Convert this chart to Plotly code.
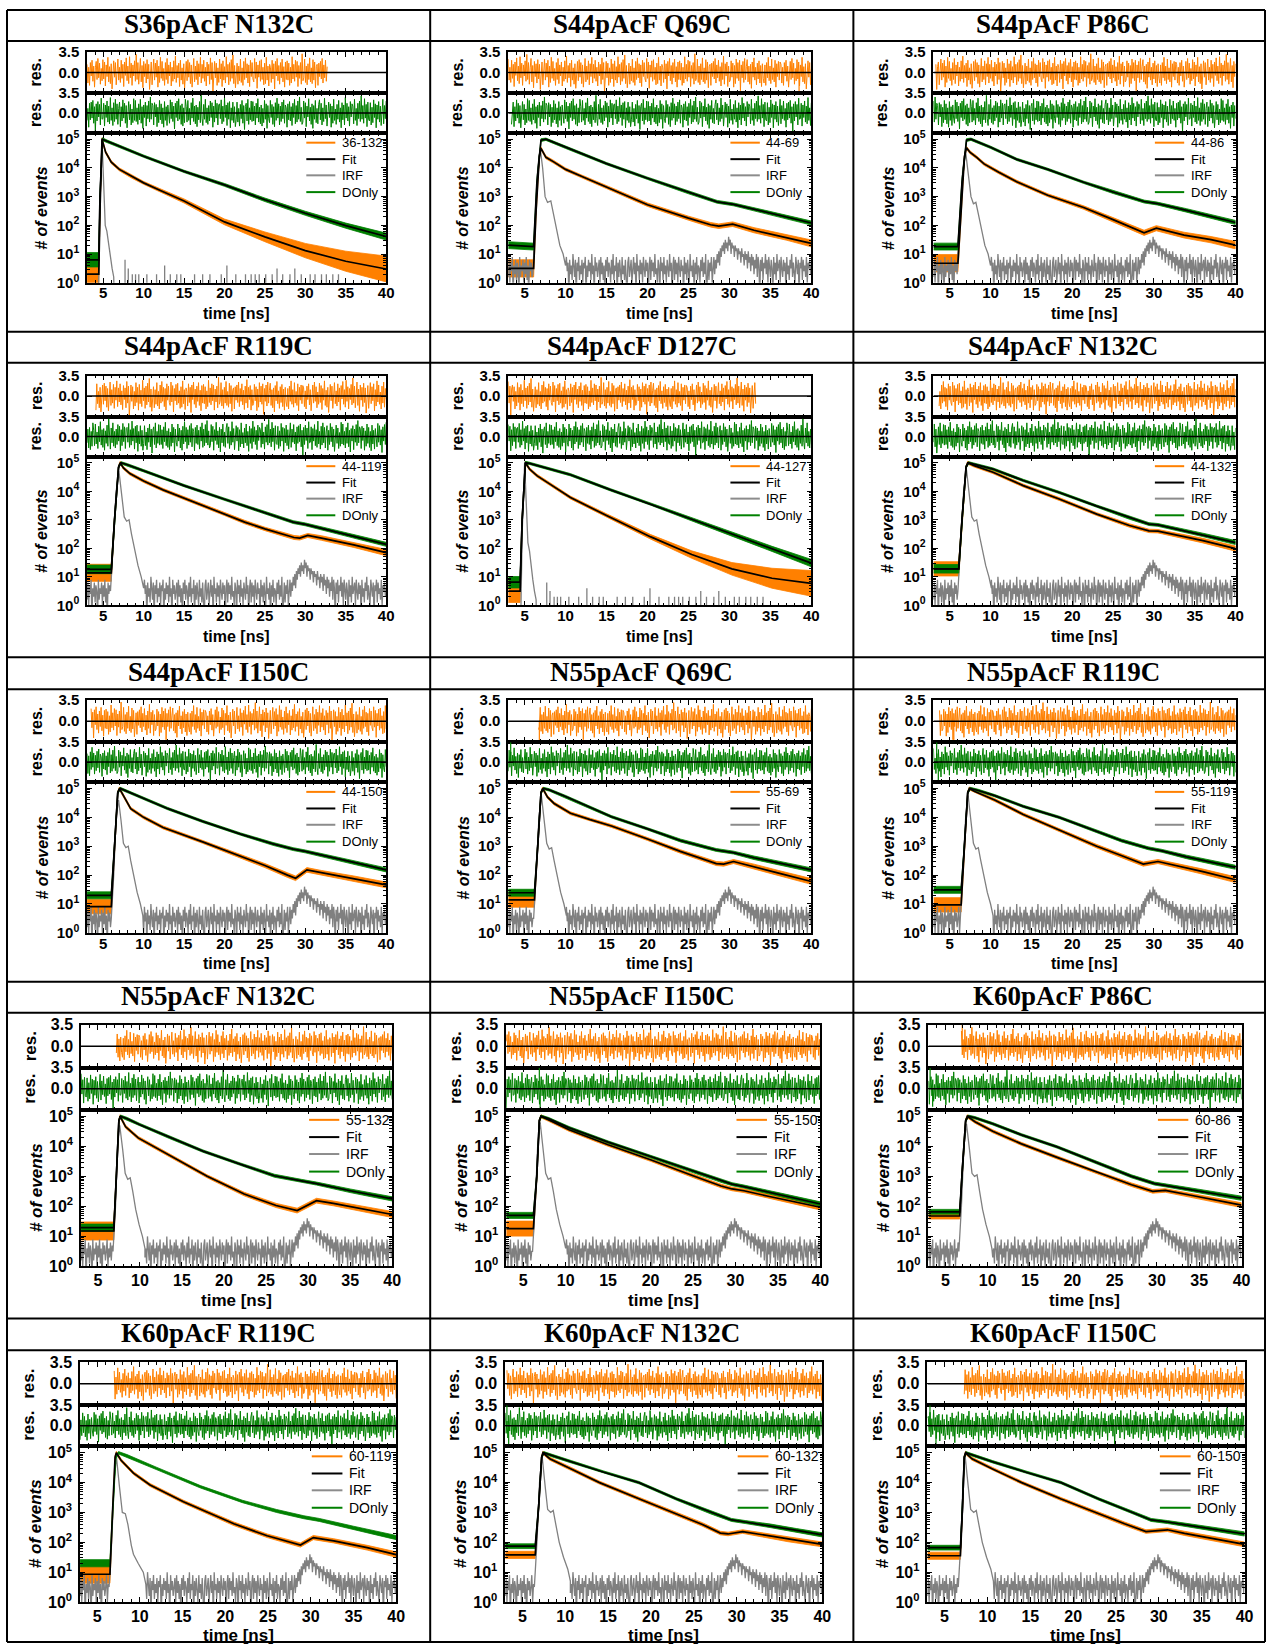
import numpy as np
import plotly.graph_objects as go

# ---------------------------------------------------------------- data
TITLES = ["S36pAcF N132C", "S44pAcF Q69C", "S44pAcF P86C",
          "S44pAcF R119C", "S44pAcF D127C", "S44pAcF N132C",
          "S44pAcF I150C", "N55pAcF Q69C", "N55pAcF R119C",
          "N55pAcF N132C", "N55pAcF I150C", "K60pAcF P86C",
          "K60pAcF R119C", "K60pAcF N132C", "K60pAcF I150C"]
PAIR_LABELS = ["36-132", "44-69", "44-86", "44-119", "44-127", "44-132",
               "44-150", "55-69", "55-119", "55-132", "55-150", "60-86",
               "60-119", "60-132", "60-150"]
LEGEND_NAMES = ["Fit", "IRF", "DOnly"]

# FRET decay: (time ns, log10 counts of fit, half-width of data scatter in decades)
FRET_NODES = [
    [(3, .3, .4), (4.45, .3, .4), (4.6, 2.5, .1), (4.85, 5.0, .05), (5.3, 4.55, .05), (6, 4.2, .05), (7, 3.95, .05),
     (8.5, 3.7, .05), (10, 3.48, .05), (12, 3.22, .06), (15, 2.85, .07), (20, 2.12, .1), (25, 1.6, .17),
     (30, 1.12, .25), (35, .75, .35), (40, .48, .45)],
    [(3, .5, .3), (6.1, .5, .3), (6.4, 2.5, .15), (6.8, 4.4, .05), (7.0, 4.68, .05), (7.6, 4.37, .05), (8.5, 4.22, .05),
     (10, 3.95, .05), (12, 3.7, .05), (15, 3.33, .05), (20, 2.72, .06), (25, 2.25, .07), (27.7, 2.02, .08),
     (28.7, 1.97, .08), (30.4, 2.04, .08), (33, 1.83, .09), (37, 1.58, .1), (40, 1.37, .12)],
    [(3, .68, .3), (6.0, .68, .3), (6.4, 2.5, .15), (6.8, 4.4, .05), (7.05, 4.7, .05), (7.5, 4.54, .05),
     (8.3, 4.37, .05), (9.2, 4.14, .05), (11, 3.85, .05), (13.2, 3.52, .05), (17, 3.05, .05), (21.4, 2.62, .06),
     (25, 2.2, .07), (28.8, 1.74, .09), (30.3, 1.9, .09), (33.7, 1.66, .1), (37, 1.5, .11), (40, 1.31, .13)],
    [(3, 1.14, .3), (6.0, 1.14, .3), (6.4, 3.0, .1), (6.9, 4.85, .05), (7.1, 5.0, .05), (7.5, 4.82, .05),
     (8.3, 4.62, .05), (10, 4.36, .05), (12.4, 4.05, .05), (15, 3.76, .05), (17.4, 3.49, .05), (20, 3.2, .05),
     (22.5, 2.92, .06), (25, 2.68, .06), (28.6, 2.38, .07), (29.3, 2.36, .07), (30.3, 2.45, .07),
     (32, 2.36, .08), (36, 2.12, .09), (40, 1.85, .11)],
    [(3, .5, .4), (4.45, .5, .4), (4.7, 3.0, .1), (5.1, 5.0, .05), (5.6, 4.78, .05), (6.5, 4.55, .05),
     (8, 4.27, .05), (10.6, 3.78, .05), (15, 3.15, .06), (20.4, 2.4, .08), (25.4, 1.78, .13), (30.3, 1.28, .22),
     (35.2, .95, .35), (40, .77, .45)],
    [(3, 1.28, .25), (6.1, 1.28, .25), (6.5, 3.0, .1), (7.0, 4.85, .05), (7.2, 5.0, .05), (8, 4.9, .05),
     (10.3, 4.67, .05), (14, 4.2, .05), (18.4, 3.73, .05), (23, 3.2, .05), (27, 2.8, .06), (29.4, 2.61, .06),
     (30.5, 2.6, .06), (33, 2.45, .07), (36, 2.27, .08), (40, 1.99, .09)],
    [(3, .91, .25), (6.0, .91, .25), (6.4, 3.0, .1), (6.8, 4.85, .05), (7.0, 5.0, .05), (7.6, 4.7, .05),
     (8.4, 4.3, .05), (10, 4.0, .05), (12.4, 3.65, .05), (17.3, 3.15, .05), (22.3, 2.62, .06), (25, 2.33, .07),
     (27.8, 2.0, .08), (28.8, 1.89, .08), (30.2, 2.18, .08), (32, 2.08, .08), (36, 1.88, .09), (40, 1.66, .1)],
    [(3, 1.14, .25), (6.2, 1.14, .25), (6.6, 3.0, .1), (7.0, 4.85, .05), (7.2, 5.0, .05), (7.8, 4.7, .05),
     (8.6, 4.48, .05), (10.6, 4.14, .05), (13, 3.92, .05), (15.6, 3.7, .05), (20, 3.25, .05), (24, 2.82, .06),
     (28.4, 2.4, .07), (29.3, 2.38, .07), (30.5, 2.47, .07), (33, 2.3, .08), (36, 2.07, .09), (40, 1.78, .1)],
    [(3, .97, .25), (6.4, .97, .25), (6.8, 3.0, .1), (7.2, 4.85, .05), (7.4, 5.0, .05), (8, 4.9, .05),
     (10.5, 4.6, .05), (14, 4.1, .05), (18.4, 3.56, .05), (23, 3.0, .06), (26, 2.68, .06), (28.7, 2.38, .07),
     (30.5, 2.47, .07), (33, 2.32, .08), (36, 2.12, .09), (40, 1.84, .1)],
    [(3, 1.18, .3), (6.9, 1.18, .3), (7.2, 3.0, .1), (7.5, 4.85, .05), (7.65, 5.0, .05), (8.3, 4.65, .05),
     (9.8, 4.28, .05), (13.7, 3.68, .05), (18, 3.0, .05), (22.4, 2.41, .06), (26.2, 2.03, .07), (28.7, 1.86, .08),
     (31, 2.19, .08), (33, 2.1, .08), (36, 1.95, .09), (40, 1.73, .1)],
    [(3, 1.26, .25), (6.2, 1.26, .25), (6.6, 3.0, .1), (6.9, 4.85, .05), (7.1, 5.0, .05), (8, 4.88, .05),
     (10.4, 4.55, .05), (15, 4.05, .05), (20, 3.55, .05), (25, 3.02, .06), (28.3, 2.68, .06), (29.6, 2.58, .06),
     (31, 2.52, .06), (34, 2.33, .07), (37, 2.15, .08), (40, 1.97, .09)],
    [(3, 1.68, .1), (6.7, 1.68, .1), (7.0, 3.2, .08), (7.4, 4.85, .05), (7.6, 5.0, .05), (8.5, 4.82, .05),
     (10.6, 4.5, .05), (14, 4.08, .05), (18.2, 3.63, .05), (23, 3.12, .05), (27, 2.72, .06), (29.5, 2.5, .06),
     (31, 2.53, .06), (34, 2.37, .07), (37, 2.2, .08), (40, 2.04, .08)],
    [(3, .93, .3), (6.5, .93, .3), (6.8, 3.0, .1), (7.1, 4.85, .05), (7.25, 5.0, .05), (7.8, 4.75, .05),
     (9.25, 4.32, .05), (11.2, 3.92, .05), (15.1, 3.36, .05), (18, 3.0, .05), (21, 2.62, .06), (24.9, 2.22, .06),
     (28.8, 1.91, .07), (30.3, 2.16, .07), (32.7, 2.05, .07), (36.6, 1.82, .08), (40, 1.59, .09)],
    [(3, 1.58, .12), (6.5, 1.58, .12), (6.9, 3.2, .08), (7.25, 4.85, .05), (7.4, 5.0, .05), (8.2, 4.8, .05),
     (10.7, 4.46, .05), (14, 4.0, .05), (18.6, 3.46, .05), (23, 2.95, .05), (26, 2.6, .06), (28.1, 2.31, .06),
     (29, 2.28, .06), (30.7, 2.36, .06), (33, 2.25, .07), (36, 2.1, .08), (40, 1.93, .08)],
    [(3, 1.55, .12), (6.85, 1.55, .12), (7.1, 3.2, .08), (7.3, 4.85, .05), (7.45, 5.0, .05), (8.2, 4.8, .05),
     (10.6, 4.46, .05), (14, 4.0, .05), (18.6, 3.45, .05), (23, 2.95, .05), (26, 2.62, .06), (28.5, 2.36, .06),
     (31, 2.42, .06), (33, 2.3, .07), (36, 2.14, .08), (40, 1.93, .08)],
]

# donor-only decay: (time ns, log10 counts of fit, half-width of data scatter in decades)
DONLY_NODES = [
    [(3, .8, .25), (4.45, .8, .25), (4.6, 3.0, .1), (4.9, 5.0, .05), (5.5, 4.93, .04), (10, 4.41, .04),
     (15, 3.88, .04), (20, 3.41, .05), (25, 2.89, .06), (30, 2.42, .07), (35, 1.99, .09), (40, 1.61, .12)],
    [(3, 1.31, .12), (6.1, 1.26, .12), (6.5, 3.5, .1), (7.0, 4.97, .05), (7.6, 5.0, .04), (10, 4.72, .04),
     (15, 4.15, .04), (20, 3.64, .04), (25, 3.15, .05), (28.5, 2.82, .05), (30.5, 2.73, .05), (33, 2.56, .06),
     (36, 2.36, .06), (40, 2.08, .07)],
    [(3, 1.26, .12), (6.0, 1.26, .12), (6.5, 3.5, .1), (7.05, 4.97, .05), (7.6, 5.0, .04), (10, 4.72, .04),
     (13.2, 4.3, .04), (17, 3.95, .04), (21.4, 3.5, .04), (25, 3.16, .05), (28.8, 2.83, .05), (30.4, 2.76, .05),
     (34, 2.52, .06), (40, 2.1, .07)],
    [(3, 1.26, .15), (6.0, 1.26, .15), (6.4, 3.0, .1), (6.9, 4.85, .05), (7.2, 5.0, .04), (8, 4.93, .04),
     (10, 4.72, .04), (15, 4.2, .04), (20, 3.72, .04), (25, 3.25, .05), (28.5, 2.92, .05), (30, 2.84, .05),
     (33, 2.62, .06), (36, 2.42, .06), (40, 2.14, .07)],
    [(3, .81, .2), (4.45, .81, .2), (4.7, 3.0, .1), (5.1, 5.0, .05), (5.6, 4.98, .04), (10.6, 4.58, .04),
     (15.5, 4.05, .04), (20.4, 3.55, .04), (25.4, 3.02, .05), (30.3, 2.5, .07), (35.2, 1.98, .09),
     (40, 1.48, .13)],
    [(3, 1.28, .15), (6.1, 1.28, .15), (6.5, 3.0, .1), (7.0, 4.85, .05), (7.3, 5.0, .04), (8, 4.95, .04),
     (10.3, 4.78, .04), (14, 4.38, .04), (18.4, 3.96, .04), (23, 3.48, .04), (27, 3.07, .05), (29.4, 2.85, .05),
     (30.5, 2.82, .05), (33, 2.66, .06), (36, 2.47, .06), (40, 2.2, .07)],
    [(3, 1.3, .12), (6.0, 1.3, .12), (6.4, 3.0, .1), (6.8, 4.85, .05), (7.1, 5.0, .04), (10, 4.65, .04),
     (13, 4.3, .04), (17.3, 3.86, .04), (22, 3.42, .04), (26, 3.08, .05), (28.5, 2.9, .05), (30, 2.82, .05),
     (33, 2.62, .06), (36, 2.44, .06), (40, 2.18, .07)],
    [(3, 1.39, .12), (6.2, 1.39, .12), (6.6, 3.0, .1), (7.0, 4.85, .05), (7.3, 5.0, .04), (8, 4.95, .04),
     (10, 4.72, .04), (15.6, 4.02, .04), (20, 3.6, .04), (24, 3.2, .05), (28.4, 2.87, .05), (30.5, 2.78, .05),
     (33, 2.6, .06), (36, 2.42, .06), (40, 2.18, .07)],
    [(3, 1.49, .12), (6.4, 1.49, .12), (6.8, 3.0, .1), (7.2, 4.85, .05), (7.5, 5.0, .04), (8.5, 4.93, .04),
     (10.5, 4.75, .04), (14, 4.38, .04), (18.4, 4.0, .04), (23, 3.52, .04), (26, 3.2, .05), (29.3, 2.93, .05),
     (31, 2.84, .05), (34, 2.63, .06), (40, 2.27, .07)],
    [(3, 1.29, .12), (6.9, 1.29, .12), (7.2, 3.0, .1), (7.5, 4.85, .05), (7.7, 5.0, .04), (8.5, 4.92, .04),
     (10, 4.72, .04), (13.5, 4.3, .04), (17.5, 3.84, .04), (22, 3.4, .04), (26, 3.02, .05), (29.2, 2.85, .05),
     (31, 2.76, .05), (35, 2.52, .06), (40, 2.25, .07)],
    [(3, 1.7, .1), (6.2, 1.7, .1), (6.6, 3.0, .1), (6.9, 4.85, .05), (7.1, 5.0, .04), (8, 4.92, .04),
     (10.4, 4.62, .04), (15, 4.14, .04), (20, 3.66, .04), (25, 3.17, .05), (28.3, 2.85, .05), (29.6, 2.74, .05),
     (31, 2.66, .05), (34, 2.47, .06), (37, 2.28, .06), (40, 2.08, .07)],
    [(3, 1.82, .08), (6.7, 1.82, .08), (7.0, 3.2, .08), (7.4, 4.85, .05), (7.7, 5.0, .04), (8.5, 4.95, .04),
     (10.6, 4.75, .04), (14, 4.38, .04), (18.2, 3.98, .04), (23, 3.45, .04), (27, 3.0, .05), (29.7, 2.76, .05),
     (31, 2.7, .05), (34, 2.56, .06), (37, 2.42, .06), (40, 2.27, .07)],
    [(3, 1.3, .12), (6.5, 1.3, .12), (6.8, 3.0, .1), (7.2, 4.85, .05), (7.5, 5.0, .04), (8.5, 4.9, .04),
     (12, 4.47, .04), (17.1, 3.86, .04), (22, 3.37, .04), (26, 3.05, .05), (29.2, 2.84, .05), (31, 2.75, .05),
     (35, 2.48, .06), (40, 2.16, .07)],
    [(3, 1.87, .08), (6.5, 1.87, .08), (6.9, 3.2, .08), (7.25, 4.85, .05), (7.5, 5.0, .04), (8.5, 4.9, .04),
     (10.7, 4.7, .04), (14.5, 4.35, .04), (18.6, 4.0, .04), (23, 3.45, .04), (27, 3.0, .05), (29.4, 2.75, .05),
     (31, 2.68, .05), (34, 2.55, .06), (37, 2.4, .06), (40, 2.25, .07)],
    [(3, 1.82, .08), (6.85, 1.82, .08), (7.1, 3.2, .08), (7.3, 4.85, .05), (7.5, 5.0, .04), (8.5, 4.9, .04),
     (10.6, 4.7, .04), (14.5, 4.35, .04), (18.6, 4.0, .04), (23, 3.45, .04), (27, 3.0, .05), (29.1, 2.75, .05),
     (31, 2.68, .05), (34, 2.55, .06), (37, 2.42, .06), (40, 2.28, .07)],
]
# the donor-only fit curve is not drawn for 60-119
DONLY_FIT_SHOWN = [True] * 12 + [False, True, True]

# main IRF pulse: (time ns, log10 counts)
IRF_PULSE = [
    [(4.4, -1), (4.55, 2.5), (4.85, 5.0), (5.05, 3.6), (5.25, 2.0), (5.45, 1.8), (5.7, 1.2), (5.9, .9),
     (6.1, .5), (6.3, .2), (6.4, -1)],
    [(6.0, .3), (6.3, 2.0), (6.6, 4.0), (6.9, 4.7), (7.2, 4.0), (7.5, 3.0), (7.8, 2.8), (8.2, 2.85), (8.5, 2.4),
     (8.9, 1.8), (9.3, 1.3), (9.7, 1.0), (10.0, .6)],
    [(5.9, .3), (6.2, 2.0), (6.6, 4.0), (6.95, 4.55), (7.3, 3.8), (7.6, 3.0), (7.9, 2.75), (8.2, 2.8),
     (8.5, 2.4), (8.9, 1.8), (9.3, 1.3), (9.7, 1.0), (10.0, .6)],
    [(5.9, .5), (6.2, 2.0), (6.6, 4.0), (6.95, 4.7), (7.3, 3.9), (7.6, 3.1), (7.9, 2.95), (8.2, 3.0), (8.5, 2.5),
     (8.9, 1.9), (9.3, 1.4), (9.7, 1.0), (10.0, .6)],
    [(4.5, -1), (4.7, 2.5), (5.0, 5.0), (5.2, 3.6), (5.4, 2.2), (5.6, 1.9), (5.8, 1.3), (6.0, .9), (6.2, .5),
     (6.4, .2), (6.5, -1)],
    [(6.0, .5), (6.3, 2.0), (6.7, 4.0), (7.05, 4.75), (7.4, 3.9), (7.7, 3.1), (8.0, 2.95), (8.3, 3.0),
     (8.6, 2.5), (9.0, 1.9), (9.4, 1.4), (9.8, 1.0), (10.1, .6)],
    [(6.0, .5), (6.3, 2.0), (6.6, 4.0), (6.9, 4.6), (7.2, 3.9), (7.5, 3.1), (7.8, 2.95), (8.1, 3.0), (8.4, 2.5),
     (8.8, 1.9), (9.2, 1.4), (9.6, 1.0), (9.9, .6)],
    [(6.1, .5), (6.4, 2.0), (6.75, 4.0), (7.05, 4.75), (7.4, 3.9), (7.7, 3.1), (8.0, 2.9), (8.3, 2.95),
     (8.6, 2.5), (9.0, 1.9), (9.4, 1.4), (9.8, 1.0), (10.1, .6)],
    [(6.3, .5), (6.6, 2.0), (6.95, 4.0), (7.25, 4.75), (7.6, 3.9), (7.9, 3.1), (8.2, 2.9), (8.5, 2.95),
     (8.8, 2.5), (9.2, 1.9), (9.6, 1.4), (10.0, 1.0), (10.3, .6)],
    [(6.8, .5), (7.1, 2.0), (7.35, 4.0), (7.6, 4.7), (7.95, 3.9), (8.25, 3.1), (8.55, 2.9), (8.85, 2.95),
     (9.15, 2.5), (9.5, 1.9), (9.9, 1.4), (10.3, 1.0), (10.6, .6)],
    [(6.1, .5), (6.4, 2.0), (6.7, 4.0), (7.0, 4.8), (7.35, 3.9), (7.65, 3.1), (7.95, 2.9), (8.25, 2.95),
     (8.55, 2.5), (8.9, 1.9), (9.3, 1.4), (9.7, 1.0), (10.0, .6)],
    [(6.6, .5), (6.9, 2.0), (7.2, 4.0), (7.5, 4.75), (7.85, 3.9), (8.15, 3.1), (8.45, 3.0), (8.75, 3.05),
     (9.05, 2.5), (9.4, 1.9), (9.8, 1.4), (10.2, 1.0), (10.5, .6)],
    [(6.4, .5), (6.7, 2.0), (7.0, 4.0), (7.25, 4.9), (7.6, 3.9), (7.95, 3.0), (8.3, 2.96), (8.6, 2.6),
     (9.0, 1.9), (9.25, 1.6), (9.8, 1.3), (10.4, 1.0), (10.7, .6)],
    [(6.4, .5), (6.7, 2.0), (7.0, 4.0), (7.3, 4.9), (7.65, 3.9), (7.95, 3.1), (8.3, 3.0), (8.6, 3.07),
     (8.9, 2.6), (9.3, 2.0), (9.8, 1.5), (10.3, 1.1), (10.6, .7)],
    [(6.6, .5), (6.9, 2.0), (7.15, 4.0), (7.4, 4.9), (7.75, 3.9), (8.05, 3.1), (8.4, 3.0), (8.7, 3.07),
     (9.0, 2.6), (9.4, 2.0), (9.9, 1.5), (10.4, 1.1), (10.7, .7)],
]
# IRF background: dense noise floor or only sparse single-count spikes
IRF_STYLE = ["sparse", "floor", "floor", "floor", "sparse", "floor", "floor", "floor",
             "floor", "floor", "floor", "floor", "floor", "floor", "floor"]

# IRF noise floor, tenths of a decade, every 0.1 ns from 3.0 to 40.0 ns
IRF_FLOOR = [
    2, 8, 0, 7, 4, 9, -5, 6, 3, 8, 1, 7, 5, -5, 9, 2, 6, 4, 8, 0,
    7, 3, 9, 1, 6, -5, 8, 4, 7, 2, 5, 9, 0, 6, 3, 8, 2, 7, -5, 5,
    9, 4, 1, 8, 3, 7, 0, 6, 9, 2, 6, -5, 8, 4, 7, 1, 9, 3, 6, 0,
    8, 5, 2, 9, 4, 7, -5, 6, 3, 8,
    0, 9, 4, 7, -5, 8, 3, 6, 1, 10, 5, 2, 8, -5, 7, 4, 9, 1, 6, 3,
    8, 0, 7, 5, 9, -5, 6, 2, 8, 4, 7, 1, 10, 3, 6, -5, 9, 4, 7, 2,
    5, 8, 0, 9, 3, 7, 1, 6, -5, 8, 4, 9, 2, 7, 5, 0, 8, 3, 10, 1,
    6, 4, 9, -5, 7, 2, 8, 5, 0, 9, 3, 6, 1, 8, 4, -5, 7, 9, 2, 6,
    8, 0, 5, 9, 3, 7, -5, 10, 4, 6, 1, 8, 3, 7, 0, 9, 5, 2, 8, 4,
    7, -5, 6, 9, 1, 8, 4, 7, 2, 10, 3, 5, 0, 8, 6, -5, 9, 4, 7, 1,
    9, 3, 6, 0, 8, 5, 2, 10, 4, 7, -5, 6, 9, 1, 8, 3, 7, 0, 9, 5,
    2, 8, 4, 6, -5, 9, 3, 7, 1, 8, 5, 0, 10, 4, 6, 2, 8, -5, 7, 3,
    9, 1, 6, 5, 0, 8, 4, 9, 2, 7, 3, 10, -5, 6, 8, 1, 7, 4, 9, 0,
    6, 9, 3, 8, 5, 10, 7, 11, 6, 12, 9, 13, 11, 14, 10, 15, 12, 14, 11, 16,
    13, 15, 10, 14, 12, 13, 9, 13, 11, 12, 8, 12, 10, 11, 7, 12, 9, 10, 6, 11,
    8, 10, 5, 11, 7, 9, 4, 10, 6, 9,
    3, 8, 5, 10, 2, 9, 6, -5, 8, 4, 9, 1, 7, 5, 10, 3, 8, 0, 9, 6,
    2, 8, 5, -5, 9, 3, 7, 1, 10, 4, 6, 8, 0, 9, 5, 2, 8, 4, 7, -5,
    9, 3, 6, 1, 8, 5, 10, 2, 7, 4, 0, 9, 6, 3, 8, -5, 7, 5, 9, 1,
    8, 4, 6, 2, 9, 0, 7, 5, 8, 3, 6,
]
# sparse IRF background: (time ns, spike height in tenths of a decade)
IRF_SPIKES = [(7.7, 8), (8.1, 5), (8.6, 3), (9.0, 3), (9.4, 3), (10.4, 3), (11.6, 3), (12.6, 6), (13.3, 3),
              (14.1, 3), (14.6, 3), (16.3, 3), (17.3, 3), (18.2, 3), (19.6, 3), (20.3, 6), (21.4, 3),
              (22.6, 3), (23.3, 3), (23.8, 3), (24.3, 3), (25.1, 3), (25.9, 3), (26.5, 5), (27.2, 3),
              (28.1, 3), (28.7, 5), (29.5, 3), (30.6, 3), (31.2, 3), (32.0, 3), (32.6, 3), (33.4, 3),
              (34.1, 3)]

# residual spans in ns: (FRET start, FRET end, DOnly start, DOnly end)
RES_SPANS = [(3.0, 32.7, 3.0, 40), (3.0, 40, 3.4, 40), (3.3, 40, 3.0, 40), (4.1, 40, 3.0, 40),
             (3.0, 33.2, 3.0, 40), (3.7, 40, 3.0, 40), (3.5, 40, 3.0, 40), (6.7, 40, 3.0, 40),
             (3.75, 40, 3.0, 40), (7.2, 40, 3.0, 40), (3.0, 40, 3.0, 40), (6.9, 40, 3.0, 40),
             (7.0, 40, 3.0, 40), (3.2, 40, 3.0, 40), (7.3, 40, 3.0, 40)]

# weighted residuals in tenths
RES_ORANGE = [
    14, -18, 9, -22, 17, -6, 21, -15, 11, -25, 8, 19, -12, 24, -9, 16, -20, 7, -14, 22,
    -11, 18, -23, 13, -7, 26, -16, 10, -19, 15, -28, 12, 20, -8, 17, -21, 6, 23, -13, 9,
    -17, 21, -10, 14, -24, 18, -5, 25, -14, 11, -19, 27, -9, 16, -22, 13, -6, 20, -15, 31,
    -12, 17, -20, 8, 24, -16, 12, -26, 19, -7, 15, -18, 22, -11, 14, -29, 10, 18, -21, 9,
    23, -13, 16, -8, 21, -25, 11, -17, 26, -10, 19, -14, 7, -22, 17, -12, 24, -19, 13, -6,
    18, -23, 9, -15, 20, -11, 28, -17, 12, -9, 16, -24, 21, -13, 8, -20, 15, -27, 11, 19,
    -14, 22, -8, 17, -19, 13, -25, 10, 24, -16, 11, -12, 20, -21, 15, -7, 26, -18, 14, -10,
    21, -15, 9, -23, 18, -6, 14, -20, 25, -12, 17, -33, 12, 19, -9, 16, -22, 8, -17, 23,
    -11, 15, -24, 20, -13, 10, -18, 27, -8, 14, -21, 17, -15, 22, -10, 30, -19, 12, -26, 9,
    16, -20, 11, -14, 23, -17, 8, -22, 19, -12, 25, -9, 15, -18, 13, -24, 21, -7, 17, -11,
    -16, 24, -10, 18, -27, 13, -8, 20, -15, 22, -12, 9, -21, 16, -19, 26, -13, 11, -23, 14,
    8, -17, 21, -11, 15, -28, 19, -6, 24, -14, 12, -20, 17, -9, 23, -16, 10, -25, 18, -12,
    20, -13, 16, -22, 9, -18, 27, -11, 14, -15, 21, -8, 19, -24, 12, -10, 17, -20, 32, -14,
    -9, 23, -17, 11, -21, 15, -12, 25, -16, 8, -19, 22, -13, 18, -26, 10, 14, -22, 16, -7,
    19, -11, 24, -18, 13, -9, 21, -15, 10, -23, 17, -12, 28, -20, 15, -6, 18, -24, 11, -16,
    -13, 20, -8, 16, -25, 12, -19, 23, -10, 17, -14, 21, -31, 13, -9, 19, -17, 24, -12, 10,
    22, -16, 11, -20, 14, -27, 18, -8, 25, -13, 9, -21, 16, -11, 20, -18, 12, -24, 15, -10,
    -18, 13, -22, 17, -9, 26, -14, 11, -19, 23, -12, 8, -16, 21, -25, 15, -7, 19, -13, 18,
]
RES_GREEN = [
    -16, 21, -9, 18, -24, 12, -7, 25, -14, 10, -20, 16, -27, 13, -11, 22, -17, 8, -19, 15,
    23, -12, 17, -21, 9, -15, 26, -10, 14, -23, 11, 19, -8, 16, -25, 12, -18, 24, -13, 7,
    -20, 15, -11, 22, -16, 9, -26, 18, -12, 14, -21, 27, -9, 17, -14, 11, -23, 20, -7, 16,
    12, -19, 24, -13, 8, -22, 17, -10, 21, -15, 30, -11, 13, -18, 25, -9, 15, -24, 19, -12,
    -14, 18, -21, 10, -17, 23, -8, 16, -26, 14, -11, 20, -16, 12, -22, 9, 24, -19, 13, -10,
    21, -13, 8, -25, 17, -12, 19, -9, 22, -18, 11, -33, 16, -14, 20, -7, 15, -21, 26, -11,
    -10, 17, -23, 14, -8, 21, -16, 12, -19, 27, -13, 9, -22, 18, -15, 24, -11, 16, -20, 8,
    19, -24, 11, -14, 23, -9, 17, -18, 13, -26, 10, 20, -12, 15, -21, 7, -17, 25, -13, 22,
    -15, 9, -20, 16, -12, 24, -18, 11, -27, 14, -8, 19, -23, 13, -10, 21, -16, 28, -11, 17,
    13, -21, 18, -7, 15, -24, 10, -17, 22, -12, 16, -19, 9, -25, 20, -13, 11, -22, 14, -9,
    -18, 23, -10, 19, -15, 12, -28, 17, -8, 21, -14, 25, -11, 13, -20, 16, -23, 9, -17, 24,
    11, -16, 22, -13, 8, -21, 18, -9, 26, -15, 12, -19, 14, -24, 10, -12, 20, -17, 31, -10,
    -22, 15, -11, 24, -17, 9, -20, 13, -14, 21, -8, 18, -25, 12, -16, 23, -9, 17, -21, 14,
    16, -10, 23, -19, 12, -15, 27, -8, 14, -22, 18, -11, 20, -26, 9, -13, 19, -17, 11, -24,
    -12, 19, -16, 8, -23, 15, -10, 22, -18, 13, -29, 11, 17, -14, 24, -20, 9, -12, 21, -15,
    20, -14, 12, -21, 17, -9, 25, -16, 10, -19, 14, -23, 8, -17, 22, -11, 16, -27, 13, -10,
    -17, 22, -8, 15, -20, 11, -24, 18, -13, 26, -9, 16, -21, 12, -15, 19, -10, 23, -18, 14,
    9, -25, 16, -12, 20, -14, 11, -22, 17, -8, 24, -19, 13, -16, 21, -11, 28, -15, 10, -20,
]
# isolated large residual excursions: (residual "o" = FRET / "g" = DOnly, time ns, value)
RES_EXTRA = [
    [], [("o", 38.5, -3.5)], [], [], [], [], [],
    [("g", 3.3, 3.5), ("o", 6.8, -3.5)],
    [("g", 3.4, 3.5), ("g", 3.6, -3.5), ("o", 5.5, -3.5)],
    [],
    [("g", 6.9, 3.5), ("g", 7.0, -3.5)],
    [("g", 3.2, 3.5), ("g", 3.5, -3.0), ("o", 7.0, 3.5)],
    [],
    [("g", 3.2, 3.5), ("g", 3.4, -3.5)],
    [("g", 3.3, 3.5), ("g", 4.0, -3.5)],
]

# ---------------------------------------------------------------- styling / layout geometry
W, H = 1275, 1652
ORANGE, GREEN, GRAY, BLACK = "#FF8000", "#008000", "#808080", "#000000"
SANS = "Liberation Sans, Arial, sans-serif"
SERIF = "Liberation Serif, Times New Roman, serif"

# pixel rows of each panel: residual 1 top, residual 1/2 border, residual 2/decay border, decay bottom
ROW_Y = [(51, 92, 132, 282), (375, 416, 456, 605), (700, 742, 782, 933),
         (1025, 1068, 1110, 1267), (1363, 1406, 1447, 1603)]
COL_X = [[(87, 386), (508, 811), (933, 1235)]] * 3 + \
        [[(81, 392), (506, 820), (928, 1241)], [(80, 396), (505, 822), (927, 1244)]]
TABLE_Y = [8, 331, 657, 982, 1319, 1651]
TITLE_BOTTOM = [40, 362, 689, 1013, 1351]
TABLE_X = [7, 430, 853, 1273]
# the page is shown slightly scaled with a top offset; positions are pre-compensated
SX, SY, OY = 0.9925, 0.9904, 7.9


def fx(p):
    return min(p / SX, W - 1.0) / W


def fy(p):
    return 1 - min(max((p - OY) / SY, 1.0), H - 1.0) / H


def names(k):
    s = "" if k == 1 else str(k)
    return "x" + s, "y" + s, "xaxis" + s, "yaxis" + s


AXIS = dict(showline=True, linecolor=BLACK, linewidth=1.5, mirror="allticks", ticks="inside",
            ticklen=5, tickwidth=1.2, tickcolor=BLACK, showgrid=False, zeroline=False)
MINOR_X = dict(tickmode="linear", tick0=0, dtick=1, ticks="inside", ticklen=3, tickwidth=1,
               tickcolor=BLACK, showgrid=False)
DECADES = [10 ** e for e in range(6)]
MINOR_LOG = [m * 10 ** e for e in range(5) for m in range(2, 10)]

fig = go.Figure()
layout = {}
annotations = []
shapes = []


def lin(x0, y0, x1, y1, width=2, color=BLACK, xref="paper", yref="paper"):
    return dict(type="line", x0=x0, y0=y0, x1=x1, y1=y1, xref=xref, yref=yref,
                line=dict(color=color, width=width))


def label(x, y, text, size=16, family=SANS, angle=0):
    return dict(x=fx(x), y=fy(y), xref="paper", yref="paper", text=text, textangle=angle,
                showarrow=False, xanchor="center", yanchor="middle",
                font=dict(family=family, size=size, color=BLACK))


# table frame
for yy in TABLE_Y + TITLE_BOTTOM:
    shapes.append(lin(fx(TABLE_X[0]), fy(yy), fx(TABLE_X[-1]), fy(yy)))
for xx in TABLE_X:
    shapes.append(lin(fx(xx), fy(TABLE_Y[0]), fx(xx), fy(TABLE_Y[-1])))

for i in range(15):
    r, c = divmod(i, 3)
    big = r >= 3
    tick_size = 16 if big else 15
    tickfont = dict(family=SANS, size=tick_size, color=BLACK, weight="bold")
    y_top, y_b1, y_b2, y_bot = ROW_Y[r]
    x_left, x_right = COL_X[r][c]
    xdom = [fx(x_left), fx(x_right)]
    bands = [(y_top, y_b1), (y_b1, y_b2), (y_b2, y_bot)]
    ks = [3 * i + 1, 3 * i + 2, 3 * i + 3]

    # panel title
    annotations.append(label((TABLE_X[c] + TABLE_X[c + 1]) / 2, (TABLE_Y[r] + TITLE_BOTTOM[r]) / 2 - 1,
                             "<b>%s</b>" % TITLES[i], size=27, family=SERIF))

    for j, k in enumerate(ks):
        xn, yn, xk, yk = names(k)
        top, bot = bands[j]
        ydom = [fy(bot), fy(top)]
        layout[xk] = dict(AXIS, domain=xdom, anchor=yn, range=[3, 40], tickmode="linear",
                          tick0=0, dtick=5, minor=MINOR_X, showticklabels=(j == 2),
                          tickfont=tickfont, ticklabelstandoff=(-1 if big else -4))
        if j < 2:
            layout[yk] = dict(AXIS, domain=ydom, anchor=xn, range=[-3.5, 3.5], tickmode="array",
                              tickvals=[0, 3.5], ticktext=["0.0", "3.5"], tickfont=tickfont,
                              ticklabelstandoff=3)
            annotations.append(label(x_left - 51, (top + bot) / 2, "<b>res.</b>",
                                     size=tick_size + 1, angle=-90))
        else:
            layout[yk] = dict(AXIS, domain=ydom, anchor=xn, type="log", range=[0, 5.22],
                              tickmode="array", tickvals=DECADES,
                              ticktext=["10<sup>%d</sup>" % e for e in range(6)], tickfont=tickfont,
                              minor=dict(tickmode="array", tickvals=MINOR_LOG, ticks="inside",
                                         ticklen=3, tickwidth=1, tickcolor=BLACK, showgrid=False),
                              ticklabelstandoff=3)
            annotations.append(label(x_left - 45, (top + bot) / 2, "<b><i># of events</i></b>",
                                     size=tick_size + 1, angle=-90))
            annotations.append(label((x_left + x_right) / 2, bot + (34 if big else 31),
                                     "<b>time [ns]</b>", size=tick_size + 1))

    # residual panels
    o0, o1, g0, g1 = RES_SPANS[i]
    for j, (arr, t0, t1, col, key) in enumerate([(RES_ORANGE, o0, o1, ORANGE, "o"),
                                                  (RES_GREEN, g0, g1, GREEN, "g")]):
        xn, yn, _, _ = names(ks[j])
        n = int(round(len(arr) * (t1 - t0) / 37.0))
        vals = np.roll(np.array(arr), -(i * 37 + j * 101))[:n] / 10.0
        fig.add_trace(go.Scatter(x=np.linspace(t0, t1, n), y=vals, mode="lines",
                                 line=dict(color=col, width=1), xaxis=xn, yaxis=yn,
                                 hoverinfo="skip"))
        ex, ey = [], []
        for which, t, v in RES_EXTRA[i]:
            if which == key:
                ex += [t, t, None]
                ey += [0, v, None]
        if ex:
            fig.add_trace(go.Scatter(x=ex, y=ey, mode="lines", line=dict(color=col, width=1.2),
                                     xaxis=xn, yaxis=yn, hoverinfo="skip"))
        fig.add_trace(go.Scatter(x=[3, 40], y=[0, 0], mode="lines", line=dict(color=BLACK, width=1.5),
                                 xaxis=xn, yaxis=yn, hoverinfo="skip"))

    # decay panel
    xn, yn, _, _ = names(ks[2])

    def band(nodes, col):
        ts = [p[0] for p in nodes]
        hi = [10 ** (p[1] + p[2]) for p in nodes]
        lo = [10 ** (p[1] - p[2]) for p in nodes]
        return go.Scatter(x=ts + ts[::-1], y=hi + lo[::-1], mode="lines", fill="toself",
                          fillcolor=col, line=dict(color=col, width=0.8), xaxis=xn, yaxis=yn,
                          hoverinfo="skip")

    def fit(nodes):
        return go.Scatter(x=[p[0] for p in nodes], y=[10 ** p[1] for p in nodes], mode="lines",
                          line=dict(color=BLACK, width=1.7), xaxis=xn, yaxis=yn, hoverinfo="skip")

    fig.add_trace(band(FRET_NODES[i], ORANGE))

    pulse = IRF_PULSE[i]
    if IRF_STYLE[i] == "floor":
        ft = [3.0 + 0.1 * m for m in range(len(IRF_FLOOR))]
        xs = [t for t in ft if t < pulse[0][0]] + [p[0] for p in pulse] + [t for t in ft if t > pulse[-1][0]]
        ys = ([10 ** (v / 10) for t, v in zip(ft, IRF_FLOOR) if t < pulse[0][0]] +
              [10 ** p[1] for p in pulse] +
              [10 ** (v / 10) for t, v in zip(ft, IRF_FLOOR) if t > pulse[-1][0]])
    else:
        xs = [p[0] for p in pulse] + [None]
        ys = [10 ** p[1] for p in pulse] + [None]
        for t, h in IRF_SPIKES:
            xs += [t, t, None]
            ys += [10 ** -0.5, 10 ** (h / 10), None]
    fig.add_trace(go.Scatter(x=xs, y=ys, mode="lines", line=dict(color=GRAY, width=1.3),
                             xaxis=xn, yaxis=yn, hoverinfo="skip", connectgaps=False))

    fig.add_trace(band(DONLY_NODES[i], GREEN))
    fig.add_trace(fit(FRET_NODES[i]))
    if DONLY_FIT_SHOWN[i]:
        fig.add_trace(fit(DONLY_NODES[i]))

    # legend box inside the decay plot
    entries = [(PAIR_LABELS[i], ORANGE), (LEGEND_NAMES[0], BLACK), (LEGEND_NAMES[1], "#8c8c8c"),
               (LEGEND_NAMES[2], GREEN)]
    for (lab, col), yy in zip(entries, [0.935, 0.825, 0.717, 0.605]):
        shapes.append(lin(0.733, yy, 0.83, yy, width=2, color=col,
                          xref=xn + " domain", yref=yn + " domain"))
        annotations.append(dict(x=0.845, y=yy, xref=xn + " domain", yref=yn + " domain",
                                text=lab, showarrow=False, xanchor="left", yanchor="middle",
                                font=dict(family=SANS, size=13 if not big else 14, color=BLACK)))

fig.update_layout(width=W, height=H, margin=dict(l=0, r=0, t=0, b=0), showlegend=False,
                  paper_bgcolor="white", plot_bgcolor="white", annotations=annotations,
                  shapes=shapes, **layout)
fig.write_html("out.html")
